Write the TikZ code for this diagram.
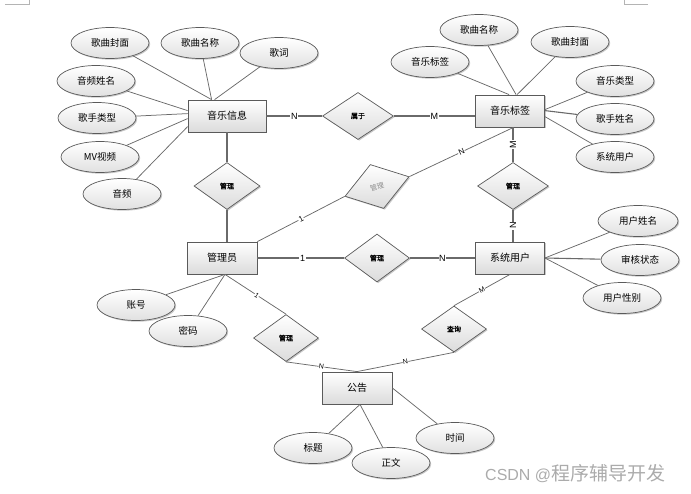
\documentclass[tikz,border=0pt]{standalone}
\usepackage{fontspec}
\setmainfont{Liberation Sans}
\newfontfamily\cjk{Noto Sans CJK SC}
\newfontfamily\cjkb[FakeBold=1.2]{Noto Sans CJK SC}
\usetikzlibrary{shapes.geometric,shadows,calc}
\definecolor{linec}{HTML}{6A6A6A}
\definecolor{bordc}{HTML}{5A5A5A}
\definecolor{markc}{HTML}{B4B4B4}
\definecolor{wmc}{HTML}{ABABAB}
\begin{document}
\begin{tikzpicture}[x=1pt,y=-1pt,
  shad/.style={drop shadow={shadow xshift=1.2pt,shadow yshift=-1.2pt,opacity=0.22,fill=black}},
  ent/.style={rectangle,draw=bordc,line width=0.8pt,top color=white,bottom color=black!14,
    minimum width=70pt,minimum height=32pt,inner sep=0pt,shad,
    font=\cjk\fontsize{10}{12}\selectfont},
  attr/.style={ellipse,draw=bordc,line width=0.7pt,top color=white,bottom color=black!12,
    minimum width=78pt,minimum height=31pt,inner sep=0pt,shad,
    font=\cjk\fontsize{9.5}{11}\selectfont},
  rel/.style={diamond,draw=bordc,line width=0.7pt,top color=white,bottom color=black!14,
    minimum width=66pt,minimum height=47pt,inner sep=0pt,shad,
    font=\cjkb\fontsize{7}{8}\selectfont},
  ln/.style={draw=linec,line width=0.75pt},
  lnb/.style={draw=linec,line width=1.1pt},
  lab/.style={font=\fontsize{9}{10}\selectfont,fill=white,inner sep=0.6pt},
  labs/.style={font=\fontsize{7}{8}\selectfont,fill=white,inner sep=0.4pt},
]
\useasboundingbox (0,0) rectangle (691,493);

% page corner marks
\draw[markc,line width=0.6pt] (5,4) -- (29,4) -- (29,0);
\draw[markc,line width=0.6pt] (648,4) -- (624,4) -- (624,0);

% entities
\node[ent,minimum width=78pt] (info) at (227,116) {音乐信息};
\node[ent,minimum width=69pt] (tag) at (510,111) {音乐标签};
\node[ent] (admin) at (222,258) {管理员};
\node[ent,minimum width=69pt] (user) at (510,258) {系统用户};
\node[ent] (notice) at (357,388) {公告};

% relations
\node[rel,minimum width=71pt] (r1) at (358,116) {属于};
\node[rel] (r2) at (227,186) {管理};
\node[rel,minimum width=67pt,minimum height=46pt,rotate=17,text=black!45,font=\cjk\fontsize{7}{8}\selectfont] (r3) at (377,186.5) {管理};
\node[rel,minimum width=71pt] (r4) at (513,186) {管理};
\node[rel,minimum width=65pt,minimum height=48pt] (r5) at (377,258) {管理};
\node[rel,minimum width=65pt] (r6) at (286,338) {管理};
\node[rel,minimum width=65pt,minimum height=46pt] (r7) at (454,329) {查询};

% attributes of 音乐信息
\node[attr] (a1) at (110,43) {歌曲封面};
\node[attr] (a2) at (200,43) {歌曲名称};
\node[attr] (a3) at (279,53) {歌词};
\node[attr] (a4) at (96,81) {音频姓名};
\node[attr] (a5) at (97,118) {歌手类型};
\node[attr] (a6) at (100,157) {MV视频};
\node[attr] (a7) at (122,194) {音频};

% attributes of 音乐标签
\node[attr] (b1) at (430,62) {音乐标签};
\node[attr] (b2) at (479,30) {歌曲名称};
\node[attr] (b3) at (570,42) {歌曲封面};
\node[attr] (b4) at (615,81) {音乐类型};
\node[attr] (b5) at (615,119) {歌手姓名};
\node[attr] (b6) at (615,157) {系统用户};

% attributes of 系统用户
\node[attr,minimum width=80pt] (c1) at (638,221) {用户姓名};
\node[attr] (c2) at (640,260) {审核状态};
\node[attr] (c3) at (622,298) {用户性别};

% attributes of 管理员
\node[attr] (d1) at (136,305) {账号};
\node[attr] (d2) at (188,331) {密码};

% attributes of 公告
\node[attr] (e1) at (313,448) {标题};
\node[attr] (e2) at (391,463) {正文};
\node[attr] (e3) at (455,438) {时间};

% attribute connectors
\draw[ln] (a1) -- ($(info.north west)+(24,0)$);
\draw[ln] (a2) -- ($(info.north west)+(24,0)$);
\draw[ln] (a3) -- ($(info.north west)+(27,0)$);
\draw[ln] (a4) -- ($(info.north west)+(0,11)$);
\draw[ln] (a5) -- ($(info.north west)+(0,14)$);
\draw[ln] (a6) -- ($(info.north west)+(0,19)$);
\draw[ln] (a7) -- ($(info.north west)+(0,27)$);

\draw[ln] (b1) -- ($(tag.north west)+(34,0)$);
\draw[ln] (b2) -- ($(tag.north west)+(41,0)$);
\draw[ln] (b3) -- ($(tag.north west)+(42,0)$);
\draw[ln] (b4) -- ($(tag.north east)+(0,15)$);
\draw[lnb] (b5) -- ($(tag.north east)+(0,16)$);
\draw[ln] (b6) -- ($(tag.north east)+(0,22)$);

\draw[ln] (c1) -- (user.east);
\draw[lnb] (c2) -- (user.east);
\draw[ln] (c3) -- (user.east);

\draw[ln] (d1) -- ($(admin.south)+(3,0)$);
\draw[ln] (d2) -- ($(admin.south)+(3,0)$);

\draw[ln] (e1) -- ($(notice.south)+(3,0)$);
\draw[ln] (e2) -- ($(notice.south)+(3,0)$);
\draw[ln] (e3) -- (notice.east);

% relation connectors
\draw[lnb] (info.east) -- node[lab,pos=0.5] {N} (r1.west);
\draw[lnb] (r1.east) -- node[lab,pos=0.5] {M} (r1.east -| tag.west);
\draw[lnb] (info.south) -- (r2.north);
\draw[lnb] (r2.south) -- (r2.south |- admin.north);

\draw[ln] (admin.north east) -- node[lab,sloped,pos=0.5,font=\fontsize{8}{9}\selectfont] {1} (r3.west);
\draw[ln] (r3.east) -- node[lab,sloped,pos=0.5,font=\fontsize{8}{9}\selectfont] {N} ($(tag.south)+(3.5,0)$);

\draw[lnb] (r4.north |- tag.south) -- node[lab,pos=0.5,rotate=90] {M} (r4.north);
\draw[lnb] (r4.south) -- node[lab,pos=0.5,rotate=90] {N} (r4.south |- user.north);

\draw[lnb] (admin.east) -- node[lab,pos=0.52] {1} (r5.west);
\draw[lnb] (r5.east) -- node[lab,pos=0.5] {N} (user.west);

\draw[ln] ($(admin.south)+(3,0)$) -- node[labs,sloped,pos=0.52] {1} (r6.north);
\draw[ln] (r6.south) -- node[labs,sloped,pos=0.5] {N} (notice.north);
\draw[ln] (user.south) -- node[labs,sloped,pos=0.5] {M} (r7.north);
\draw[ln] (r7.south) -- node[labs,sloped,pos=0.5] {N} (notice.north);

% watermark
\node[text=wmc,anchor=west,inner sep=0pt] (wm) at (485,474)
  {{\fontsize{16}{18}\selectfont CSDN @}{\cjk\fontsize{19}{21}\selectfont 程序辅导开发}};
\end{tikzpicture}
\end{document}
